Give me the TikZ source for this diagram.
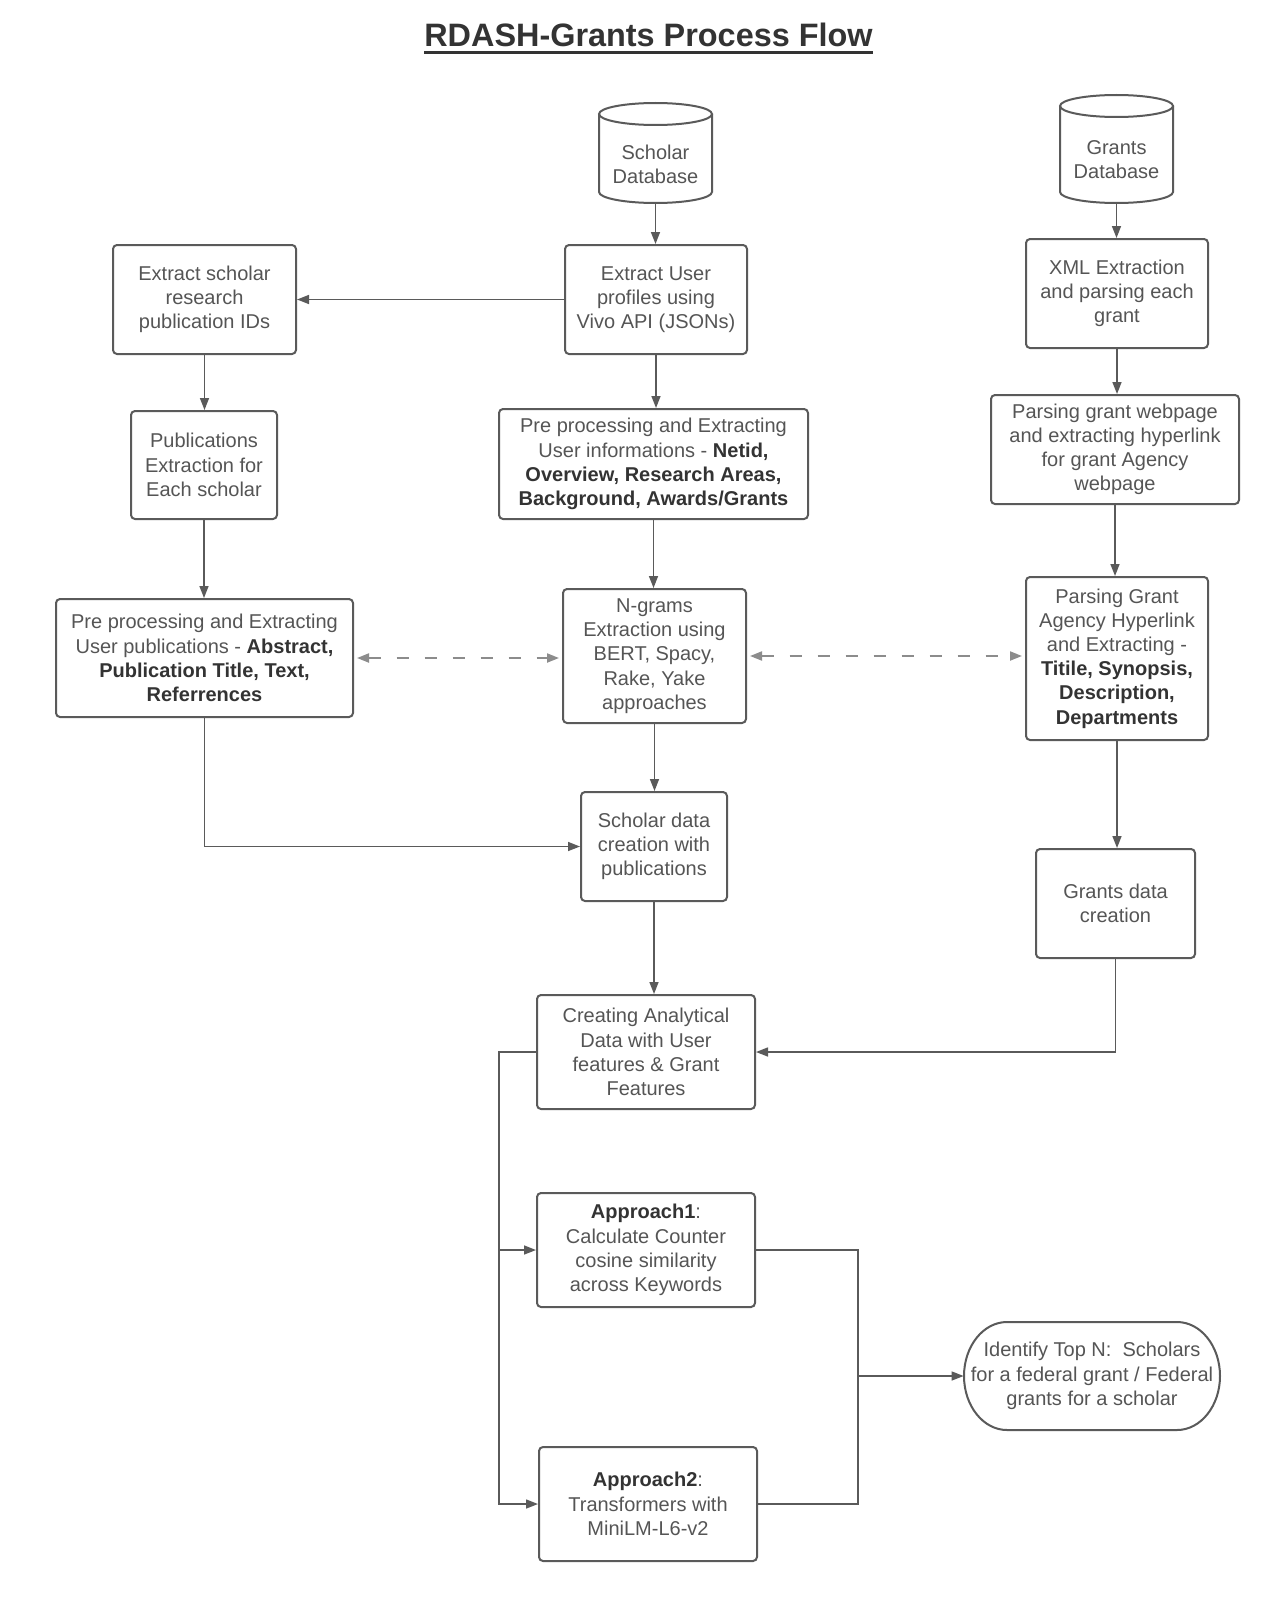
\documentclass[tikz,border=0pt]{standalone}
\usepackage{fontspec}
\setmainfont{Liberation Sans}
\usetikzlibrary{arrows.meta}
\definecolor{txt}{HTML}{555555}
\definecolor{bld}{HTML}{333333}
\definecolor{ln}{HTML}{5A5A5A}
\definecolor{dsh}{HTML}{8C8C8C}
\newcommand\bt[1]{{\color{bld}\bfseries #1}}
\newcommand\myuline[1]{\leavevmode\vtop{\hbox{#1}\kern2pt\hrule height 1.4pt}}
\begin{document}
\begin{tikzpicture}[x=0.5pt,y=-0.5pt,
 box/.style={draw=ln, line width=1pt, rounded corners=2pt, align=center, inner sep=0pt,
   font=\fontsize{10}{12.1}\selectfont, text=txt, fill=white},
 sz/.style 2 args={minimum width=#1pt, minimum height=#2pt},
 plain/.style={align=center, inner sep=0pt, font=\fontsize{10}{12.1}\selectfont, text=txt},
 conn/.style={draw=ln, line width=0.75pt, -{Triangle[length=6pt,width=4.5pt]}},
 link/.style={draw=ln, line width=0.75pt},
 dashlink/.style={draw=dsh, line width=1pt, dash pattern=on 6pt off 8pt,
   {Triangle[length=6pt,width=4.5pt]}-{Triangle[length=6pt,width=4.5pt]},
   shorten <=1.5pt, shorten >=1.5pt},
 shapeline/.style={draw=ln, line width=1pt}]
\fill[white] (0,0) rectangle (1285,1600);
\useasboundingbox (0,0) rectangle (1285,1600);

% title
\node[font=\fontsize{16.2}{19}\selectfont\bfseries, text=bld, anchor=base, inner sep=0pt]
  (title) at (648.5,47) {\myuline{RDASH-Grants Process Flow}};

% databases
\draw[shapeline] (599,114) -- (599,192) arc[start angle=180,end angle=360,x radius=28.25pt,y radius=5.5pt] -- (712,114);
\draw[shapeline] (655.5,114) ellipse [x radius=28.25pt, y radius=5.5pt];
\node[plain, sz={56.5}{39}] (scholarDB) at (655.5,164) {Scholar\\Database};

\draw[shapeline] (1060,106) -- (1060,192) arc[start angle=180,end angle=360,x radius=28.25pt,y radius=5.5pt] -- (1173,106);
\draw[shapeline] (1116.5,106) ellipse [x radius=28.25pt, y radius=5.5pt];
\node[plain, sz={56.5}{43}] (grantsDB) at (1116.5,160) {Grants\\Database};

% boxes
\node[box, sz={91.5}{54.5}] (extractScholar) at (204.5,299.5) {Extract scholar\\research\\publication IDs};
\node[box, sz={91}{54.5}] (extractUser) at (656,299.5) {Extract User\\profiles using\\Vivo API (JSONs)};
\node[box, sz={91}{54.5}] (xml) at (1117,293.5) {XML Extraction\\and parsing each\\grant};
\node[box, sz={73}{54}] (publications) at (204,465) {Publications\\Extraction for\\Each scholar};
\node[box, sz={154.5}{55}] (preprocUser) at (653.5,464) {Pre processing and Extracting\\User informations - \bt{Netid,}\\\bt{Overview, Research Areas,}\\\bt{Background, Awards/Grants}};
\node[box, sz={124}{54.5}] (parsingWebpage) at (1115,449.5) {Parsing grant webpage\\and extracting hyperlink\\for grant Agency\\webpage};
\node[box, sz={148.5}{59}] (preprocPubs) at (204.5,658) {Pre processing and Extracting\\User publications - \bt{Abstract,}\\\bt{Publication Title, Text,}\\\bt{Referrences}};
\node[box, sz={91.5}{67}] (ngrams) at (654.5,656) {N-grams\\Extraction using\\BERT, Spacy,\\Rake, Yake\\approaches};
\node[box, sz={91}{81.5}] (parsingAgency) at (1117,658.5) {Parsing Grant\\Agency Hyperlink\\and Extracting -\\\bt{Titile, Synopsis,}\\\bt{Description,}\\\bt{Departments}};
\node[box, sz={73}{54.5}] (scholarData) at (654,846.5) {Scholar data\\creation with\\publications};
\node[box, sz={79.5}{54.5}] (grantsData) at (1115.5,903.5) {Grants data\\creation};
\node[box, sz={109}{57}] (analytical) at (646,1052) {Creating Analytical\\Data with User\\features \& Grant\\Features};
\node[box, sz={109}{57}] (approach1) at (646,1250) {\bt{Approach1}:\\Calculate Counter\\cosine similarity\\across Keywords};
\node[box, sz={109}{57}] (approach2) at (648,1504) {\bt{Approach2}:\\Transformers with\\MiniLM-L6-v2};

% terminal (stadium)
\draw[shapeline] (1007,1322) -- (1177,1322)
  arc[start angle=90,end angle=-90,x radius=21.5pt,y radius=27pt] -- (1007,1430)
  arc[start angle=270,end angle=90,x radius=21.5pt,y radius=27pt] -- cycle;
\node[plain, sz={128}{54}] (topN) at (1092,1376) {Identify Top N:~~Scholars\\for a federal grant / Federal\\grants for a scholar};

% helper coordinates
\coordinate (lx) at (499,0);
\coordinate (mx) at (858,0);

% connectors
\draw[conn] (scholarDB.south) -- (scholarDB.south |- extractUser.north);
\draw[conn] (extractUser.west) -- (extractScholar.east);
\draw[conn] (extractScholar.south) -- (extractScholar.south |- publications.north);
\draw[conn] (publications.south) -- (publications.south |- preprocPubs.north);
\draw[conn] (extractUser.south) -- (extractUser.south |- preprocUser.north);
\draw[conn] (preprocUser.south) -- (preprocUser.south |- ngrams.north);
\draw[conn] (grantsDB.south) -- (grantsDB.south |- xml.north);
\draw[conn] (xml.south) -- (xml.south |- parsingWebpage.north);
\draw[conn] (parsingWebpage.south) -- (parsingWebpage.south |- parsingAgency.north);
\draw[conn] (parsingAgency.south) -- (parsingAgency.south |- grantsData.north);
\draw[dashlink] (preprocPubs.east) -- (preprocPubs.east -| ngrams.west);
\draw[dashlink] (ngrams.east) -- (ngrams.east -| parsingAgency.west);
\draw[conn] (ngrams.south) -- (ngrams.south |- scholarData.north);
\draw[conn] (preprocPubs.south) |- (scholarData.west);
\draw[conn] (scholarData.south) -- (scholarData.south |- analytical.north);
\draw[conn] (grantsData.south) |- (analytical.east);
\draw[conn] (analytical.west) -- (analytical.west -| lx) |- (approach2.west);
\draw[conn] (approach1.west -| lx) -- (approach1.west);
\draw[link] (approach1.east) -- (approach1.east -| mx) -- (approach2.east -| mx) -- (approach2.east);
\draw[conn] (topN.west -| mx) -- (topN.west);
\end{tikzpicture}
\end{document}
